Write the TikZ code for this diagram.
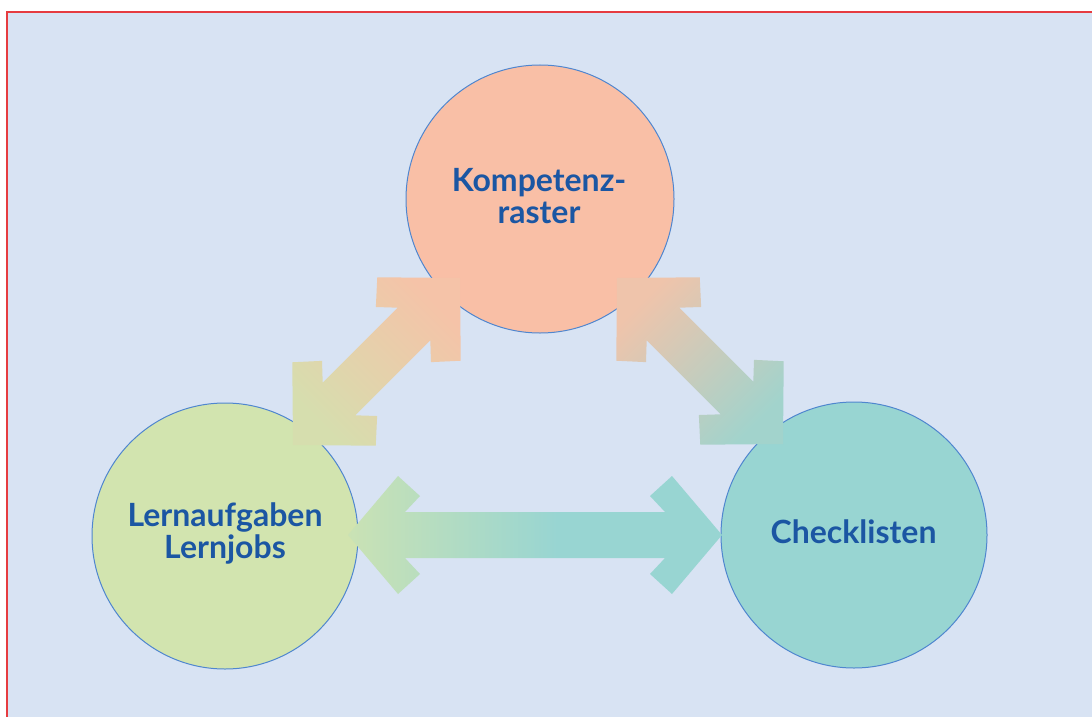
\documentclass[tikz,border=0pt]{standalone}
\usepackage{fontspec}
\setmainfont{Lato}
\usetikzlibrary{calc}

\definecolor{paper}{HTML}{D8E3F3}
\definecolor{frame}{HTML}{E63C40}
\definecolor{ring}{HTML}{4F86CF}
\definecolor{salmon}{HTML}{F9BFA6}
\definecolor{lime}{HTML}{D2E4AF}
\definecolor{teal}{HTML}{98D5D2}
\definecolor{ink}{HTML}{1B56A3}
\definecolor{olivelight}{HTML}{D6DEAE}
\definecolor{peach}{HTML}{F5C3A8}
\definecolor{peachgrey}{HTML}{EFC4AB}
\definecolor{seagrey}{HTML}{A2D3CC}
\definecolor{leaf}{HTML}{CAE2B4}

% green-to-teal fade, teal reached a little past the middle
\pgfdeclarehorizontalshading{lrfade}{100bp}{color(0bp)=(leaf); color(25bp)=(leaf);
  color(53bp)=(teal); color(100bp)=(teal)}

% Double-headed block arrow between tips #1 and #2.
% #3: head depth (pt), #4: fill/shading options.
\newcommand\twowayarrow[4]{%
  \foreach \e/\f/\s in {#1/#2/90,#2/#1/-90}{%
    \coordinate (\e-c1) at ($(\e)!#3pt!(\f)$);
    \coordinate (\e-c2) at ($(\e)!{#3pt+22pt}!(\f)$);
    \coordinate (\e-c3) at ($(\e)!{#3pt+7pt}!(\f)$);
    \coordinate (\e-oL) at ($(\e-c1)!59pt!\s:(\f)$);
    \coordinate (\e-oR) at ($(\e-c1)!59pt!-\s:(\f)$);
    \coordinate (\e-kL) at ($(\e-c2)!39pt!\s:(\f)$);
    \coordinate (\e-kR) at ($(\e-c2)!39pt!-\s:(\f)$);
    \coordinate (\e-jL) at ($(\e-c3)!23pt!\s:(\f)$);
    \coordinate (\e-jR) at ($(\e-c3)!23pt!-\s:(\f)$);
  }
  \shade[#4] (#1) -- (#1-oL) -- (#1-kL) -- (#1-jL) -- (#2-jL) -- (#2-kL)
    -- (#2-oL) -- (#2) -- (#2-oR) -- (#2-kR) -- (#2-jR) -- (#1-jR)
    -- (#1-kR) -- (#1-oR) -- cycle;
}

\begin{document}
\begin{tikzpicture}[x=1pt,y=-1pt,
  bubble/.style={circle, draw=ring, line width=1pt, inner sep=0pt, outer sep=0pt},
  lbl/.style={text=ink, font=\bfseries\fontsize{32}{32}\selectfont, align=center, inner sep=0pt}]
\useasboundingbox (0,0) rectangle (1092,717);
\clip (0,0) rectangle (1092,717);
\fill[white] (0,0) rectangle (1092,717);
\draw[frame, line width=1.5pt, fill=paper] (7,12) rectangle (1110,735);

% the three circles
\node[bubble, fill=salmon, minimum size=268] (komp) at (540,199) {};
\node[bubble, fill=lime,   minimum size=266] (lern) at (225,536) {};
\node[bubble, fill=teal,   minimum size=266] (check) at (854,535) {};

% arrow tips (inside the circles)
\coordinate (kl-a) at (293,445);
\coordinate (kl-b) at (460,278);
\coordinate (kr-a) at (617,278);
\coordinate (kr-b) at (783,444);
\coordinate (lr-a) at (348,535);
\coordinate (lr-b) at (722,535);

\twowayarrow{kl-a}{kl-b}{58}{bottom color=olivelight, top color=peach, shading angle=-45}
\twowayarrow{kr-a}{kr-b}{58}{top color=peachgrey, bottom color=seagrey, shading angle=45}
\twowayarrow{lr-a}{lr-b}{50}{shading=lrfade}

% labels
\node[lbl] (kompT) at (539,196) {Kompetenz-\\raster};
\node[lbl] (lernT) at (225,533) {Lernaufgaben\\Lernjobs};
\node[lbl, anchor=base] (checkT) at (853.5,543) {Checklisten};
\end{tikzpicture}
\end{document}
